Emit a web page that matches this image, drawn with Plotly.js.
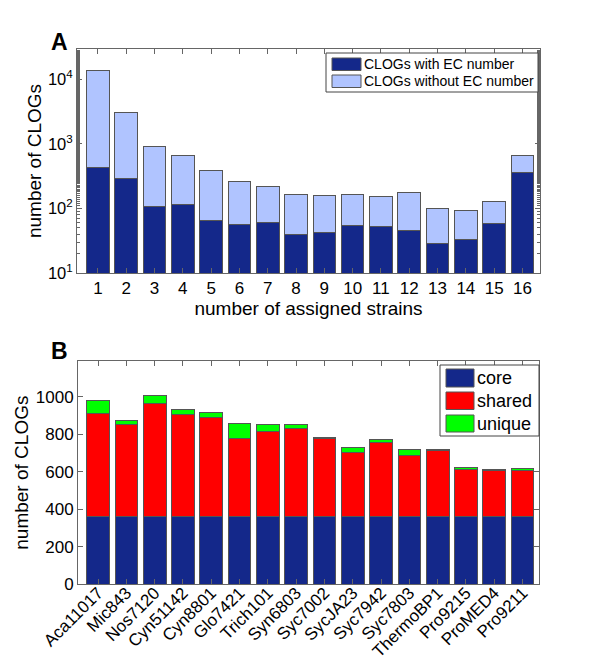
<!DOCTYPE html>
<html><head><meta charset="utf-8">
<script src="https://cdn.plot.ly/plotly-3.0.1.min.js"></script>
<style>html,body{margin:0;padding:0;background:#fff}#chart{width:600px;height:658px}</style>
</head><body><div id="chart"></div>
<script>
// Panel A data
const strains = [1,2,3,4,5,6,7,8,9,10,11,12,13,14,15,16];
const withEC = [429,287,109,117,65,57,61,40,43,54,52,46,29,33,59,364];
const withoutEC = [13470,2738,789,550,320,207,160,124,117,112,103,128,72,61,69,295];
const logTickVals = [10,100,1000,10000];
const logTickText = ['10<sup>1</sup>','10<sup>2</sup>','10<sup>3</sup>','10<sup>4</sup>'];
// Panel B data
const genomes = ['Aca11017','Mic843','Nos7120','Cyn51142','Cyn8801','Glo7421','Trich101','Syn6803',
                 'Syc7002','SycJA23','Syc7942','Syc7803','ThermoBP1','Pro9215','ProMED4','Pro9211'];
const core = [362,362,362,362,362,362,362,362,362,362,362,362,362,362,362,362];
const shared = [548,487,601,544,526,416,452,468,415,338,393,324,349,250,244,244];
const unique = [69,23,42,28,25,78,35,21,3,29,18,32,5,12,6,11];
const countTicks = [0,200,400,600,800,1000];
const seriesA = ['CLOGs with EC number','CLOGs without EC number'];
const seriesB = ['core','shared','unique'];

const FONT = 'Liberation Sans, Arial, Helvetica, sans-serif';
const DARK = '#14288a', LIGHT = '#b0c4ff', RED = '#ff0000', GREEN = '#00ff00';
const EDGE = '#555555', AX = '#666666';
const W = 600, H = 658;
const px = v => v / W, py = v => 1 - v / H;

const edge = {color: EDGE, width: 1};
const traces = [
  {type:'bar', x:strains, y:withEC, name:seriesA[0], xaxis:'x', yaxis:'y', marker:{color:DARK, line:edge}},
  {type:'bar', x:strains, y:withoutEC, name:seriesA[1], xaxis:'x', yaxis:'y', marker:{color:LIGHT, line:edge}},
  {type:'bar', x:genomes, y:core, name:seriesB[0], xaxis:'x2', yaxis:'y2', marker:{color:DARK, line:edge}},
  {type:'bar', x:genomes, y:shared, name:seriesB[1], xaxis:'x2', yaxis:'y2', marker:{color:RED, line:edge}},
  {type:'bar', x:genomes, y:unique, name:seriesB[2], xaxis:'x2', yaxis:'y2', marker:{color:GREEN, line:edge}}
];

const axBase = {showline:true, linecolor:AX, linewidth:1, mirror:'ticks', ticks:'inside', ticklen:5,
  tickcolor:AX, showgrid:false, zeroline:false, tickfont:{family:FONT, size:17, color:'#000'}};

const shapes = [], annotations = [];
function legend(box, items, fs) {
  shapes.push({type:'rect', xref:'paper', yref:'paper', x0:px(box[0]), x1:px(box[1]), y0:py(box[3]), y1:py(box[2]),
    line:{color:'#444', width:1}, fillcolor:'#fff', layer:'above'});
  items.forEach(it => {
    shapes.push({type:'rect', xref:'paper', yref:'paper', x0:px(it.sx0), x1:px(it.sx1), y0:py(it.sy1), y1:py(it.sy0),
      line:{color:EDGE, width:1}, fillcolor:it.color, layer:'above'});
    annotations.push({xref:'paper', yref:'paper', x:px(it.tx), y:py((it.sy0+it.sy1)/2), xanchor:'left', yanchor:'middle',
      text:it.text, showarrow:false, font:{family:FONT, size:fs, color:'#000'}});
  });
}
legend([326,538,53,92], [
  {sx0:332, sx1:361, sy0:58, sy1:70.5, tx:362, color:DARK, text:seriesA[0]},
  {sx0:332, sx1:361, sy0:75, sy1:87.5, tx:362, color:LIGHT, text:seriesA[1]}
], 14);
legend([440,539,365,436], [
  {sx0:446, sx1:474, sy0:369, sy1:387, tx:475, color:DARK, text:seriesB[0]},
  {sx0:446, sx1:474, sy0:392, sy1:409.5, tx:475, color:RED, text:seriesB[1]},
  {sx0:446, sx1:474, sy0:415, sy1:432, tx:475, color:GREEN, text:seriesB[2]}
], 18);
annotations.push({xref:'paper', yref:'paper', x:px(59), y:py(42), text:'<b>A</b>', showarrow:false,
  xanchor:'center', yanchor:'middle', font:{family:FONT, size:23, color:'#000'}});
annotations.push({xref:'paper', yref:'paper', x:px(59), y:py(351), text:'<b>B</b>', showarrow:false,
  xanchor:'center', yanchor:'middle', font:{family:FONT, size:23, color:'#000'}});

const layout = {
  width:W, height:H, margin:{l:0, r:0, t:0, b:0}, paper_bgcolor:'#fff', plot_bgcolor:'#fff',
  barmode:'stack', bargap:0.2, showlegend:false, font:{family:FONT, color:'#000'},
  xaxis: Object.assign({}, axBase, {domain:[px(77), px(540)], anchor:'y', range:[0.26, 16.62],
    tickvals:strains, ticktext:strains.map(String),
    title:{text:'number of assigned strains', font:{family:FONT, size:19}, standoff:2}}),
  yaxis: Object.assign({}, axBase, {domain:[py(273), py(49)], anchor:'x', type:'log', range:[1, 4.47],
    tickvals:logTickVals, ticktext:logTickText, tickfont:{family:FONT, size:16.5, color:'#000'},
    minor:{ticks:'inside', ticklen:3, tickcolor:AX, showgrid:false},
    title:{text:'number of CLOGs', font:{family:FONT, size:19}, standoff:1}}),
  xaxis2: Object.assign({}, axBase, {domain:[px(78), px(539)], anchor:'y2', type:'category',
    categoryorder:'array', categoryarray:genomes, range:[-0.71, 15.58], tickangle:-45,
    ticklabelstandoff:-9,
    tickfont:{family:FONT, size:17, color:'#000'}}),
  yaxis2: Object.assign({}, axBase, {domain:[py(584.3), py(361)], anchor:'x2', range:[0, 1190],
    tickvals:countTicks,
    title:{text:'number of CLOGs', font:{family:FONT, size:19}, standoff:2}}),
  shapes:shapes, annotations:annotations
};
Plotly.newPlot('chart', traces, layout, {displayModeBar:false, staticPlot:true});
</script></body></html>
